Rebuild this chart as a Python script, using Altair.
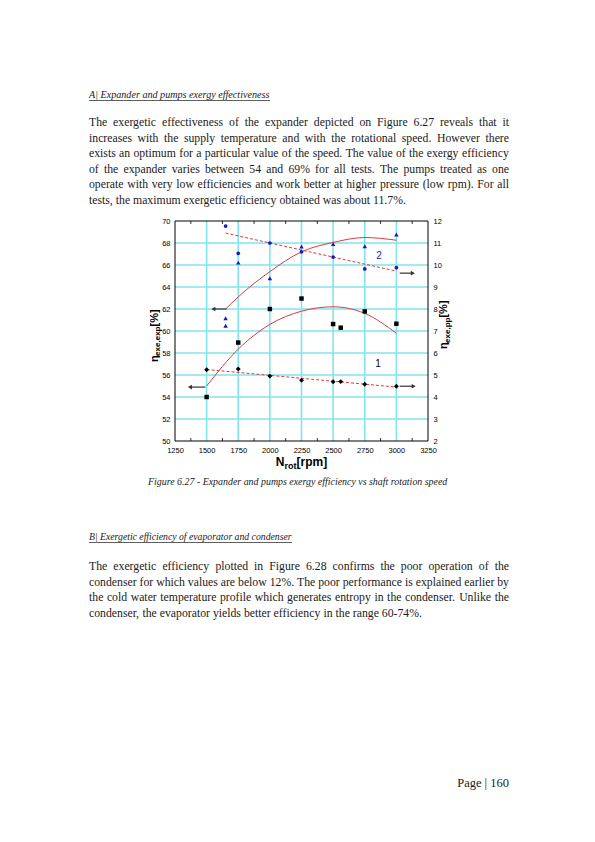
import altair as alt
import pandas as pd

# ---- values ----
rpm_sq = [1500, 1750, 2000, 2250, 2500, 2560, 2750, 3000]
eta_exp_sq = [54.0, 58.95, 62.0, 62.95, 60.63, 60.3, 61.78, 60.66]
rpm_di = [1500, 1750, 2000, 2250, 2500, 2560, 2750, 3000]
eta_pp_di = [5.24, 5.27, 4.95, 4.76, 4.69, 4.70, 4.58, 4.49]
rpm_tri = [1650, 1650, 1750, 2000, 2250, 2500, 2750, 3000]
eta_exp_tri = [61.16, 60.48, 66.22, 64.8, 67.68, 67.9, 67.7, 68.77]
rpm_ci = [1650, 1750, 2000, 2250, 2500, 2750, 3000]
eta_pp_ci = [11.77, 10.53, 11.0, 10.6, 10.36, 9.82, 9.88]

# fitted curves as drawn on the figure
rpm_fit2 = [1650, 1750, 2000, 2250, 2500, 2750, 3000]
eta_fit2 = [62.0, 63.1, 65.4, 67.2, 68.05, 68.5, 68.25]
rpm_fit1 = [1500, 1750, 2000, 2250, 2500, 2750, 3000]
eta_fit1 = [55.0, 58.35, 60.6, 61.8, 62.2, 61.6, 59.8]
rpm_trend2 = [1650, 3000]
eta_trend2 = [11.45, 9.72]
rpm_trend1 = [1500, 3000]
eta_trend1 = [5.25, 4.45]

# arrows telling which axis a curve belongs to
arrow_left_from = [1658, 1490]
arrow_left_to = [1553, 1368]
arrow_left_y = [62.0, 54.9]
arrow_right_from = [3026, 3026]
arrow_right_to = [3130, 3137]
arrow_right_y = [9.63, 4.49]

curve_labels = ["2", "1"]
curve_label_rpm = [2862, 2855]
curve_label_eta = [66.8, 57.0]

x_ticks = [1250, 1500, 1750, 2000, 2250, 2500, 2750, 3000, 3250]
x_grid = [1500, 1750, 2000, 2250, 2500, 2750, 3000]
x_minor = [1375, 1625, 1875, 2125, 2375, 2625, 2875, 3125]
y_left_ticks = [50, 52, 54, 56, 58, 60, 62, 64, 66, 68, 70]
y_grid = [52, 54, 56, 58, 60, 62, 64, 66, 68]
y_right_ticks = [2, 3, 4, 5, 6, 7, 8, 9, 10, 11, 12]

# ---- page text ----
title_a = "A| Expander and pumps exergy effectiveness"
para_a = [
    "The exergetic effectiveness of the expander depicted on Figure 6.27 reveals that it",
    "increases with the supply temperature and with the rotational speed. However there",
    "exists an optimum for a particular value of the speed. The value of the exergy efficiency",
    "of the expander varies between 54 and 69% for all tests. The pumps treated as one",
    "operate with very low efficiencies and work better at higher pressure (low rpm). For all",
    "tests, the maximum exergetic efficiency obtained was about 11.7%.",
]
caption = "Figure 6.27 - Expander and pumps exergy efficiency vs shaft rotation speed"
title_b = "B| Exergetic efficiency of evaporator and condenser"
para_b = [
    "The exergetic efficiency plotted in Figure 6.28 confirms the poor operation of the",
    "condenser for which values are below 12%. The poor performance is explained earlier by",
    "the cold water temperature profile which generates entropy in the condenser. Unlike the",
    "condenser, the evaporator yields better efficiency in the range 60-74%.",
]
page_label = "Page | 160"

# ---- layout (page pixels) ----
X0, Y0, W, H = 175, 221, 253, 220
LEFT, RIGHT = 89, 509
RED = "#d93b3b"
BLUE = "#1818c8"
CYAN = "#80e4ee"
INK = "#1a1a1a"
SANS = "Liberation Sans"
SERIF = "Liberation Serif"


def _table(spec, default=500):
    out = {}
    for chars, w in spec:
        for c in chars:
            out[c] = w
    return out, default


TIMES = _table([(" ", 250), (".,", 250), (":;ijlt", 278), ("frI()-[]", 333), ("s", 389),
                ("aecz", 444), ("m", 778), ("w", 722), ("%", 833), ("|", 200),
                ("AHNUG", 722), ("B", 667), ("ET", 611), ("FP", 556)])
TIMES_I = _table([(" ", 250), (".,", 250), ("fijlt", 278), ("-", 333), ("rsz", 389),
                  ("cekvxy", 444), ("m", 722), ("w", 667), ("|", 275), ("ABEF", 611)])
ARIAL_B = _table([("N", 722), ("r", 389), ("o", 611), ("t", 333), ("[]", 333), ("p", 611),
                  ("m", 889), ("ex", 556), (",", 278), ("%", 889), ("η", 556)])


def text_w(s, size, table):
    widths, default = table
    return sum(widths.get(c, default) for c in s) * size / 1000.0


def justified(lines, y_first, step, size):
    rows = []
    space = text_w(" ", size, TIMES)
    for i, line in enumerate(lines):
        words = line.split(" ")
        ws = [text_w(w, size, TIMES) for w in words]
        gap = space
        if i < len(lines) - 1 and len(words) > 1:
            gap = (RIGHT - LEFT - sum(ws)) / (len(words) - 1)
        x = LEFT
        for w, wd in zip(words, ws):
            rows.append({"px": x - X0, "py": y_first + i * step - Y0, "text": w})
            x += wd + gap
    return rows


full_lines = para_a[:-1] + para_b[:-1]
body_size = min(12.2, min((RIGHT - LEFT) / text_w(l, 1.0, TIMES) for l in full_lines))
words = pd.DataFrame(justified(para_a, 126, 15.6, body_size) + justified(para_b, 570, 15.6, body_size))

size_a = 181 / text_w(title_a, 1.0, TIMES_I)
size_b = 203 / text_w(title_b, 1.0, TIMES_I)
size_cap = 301 / text_w(caption, 1.0, TIMES_I)
italic_rows = pd.DataFrame([
    {"px": LEFT - X0, "py": 98 - Y0, "text": title_a, "fs": size_a},
    {"px": LEFT - X0, "py": 540 - Y0, "text": title_b, "fs": size_b},
    {"px": 298.5 - 301 / 2 - X0, "py": 485 - Y0, "text": caption, "fs": size_cap},
])
underline = pd.DataFrame([
    {"px": LEFT - X0, "px2": LEFT + 181 - X0, "py": 100.5 - Y0},
    {"px": LEFT - X0, "px2": LEFT + 203 - X0, "py": 542.5 - Y0},
])
page_df = pd.DataFrame([{"px": RIGHT - X0, "py": 787 - Y0, "text": page_label}])

# axis titles built from pieces so that the subscripts can be smaller
xt = [("N", 12, 0), ("rot", 9, 2.5), ("[rpm]", 12, 0)]
xt_total = sum(text_w(t, s, ARIAL_B) for t, s, _ in xt)
xt_rows, cx = [], 301.5 - xt_total / 2
for t, s, dy in xt:
    xt_rows.append({"px": cx - X0, "py": 466 + dy - Y0, "text": t, "fs": s})
    cx += text_w(t, s, ARIAL_B)


def vertical_title(pieces, x_base, y_bottom):
    rows, cy = [], y_bottom
    for t, s, dx in pieces:
        rows.append({"px": x_base + dx - X0, "py": cy - Y0, "text": t, "fs": s})
        cy -= text_w(t, s, ARIAL_B)
    return rows


yt_rows = vertical_title([("η", 11, 0), ("exe,exp", 8, 2.5), ("[%]", 11, 0)], 157.5, 362)
yt_rows += vertical_title([("η", 11, 0), ("exe,pp", 8, 2.5), ("[%]", 11, 0)], 447, 349)
x_title_df = pd.DataFrame(xt_rows)
vert_titles = pd.DataFrame(yt_rows)

# ---- encodings ----
lab = dict(grid=False, ticks=False, domain=False, labelFont=SANS, labelFontSize=7.5,
           labelColor="black", labelPadding=5, labelFlush=False, labelOverlap=False, title="")
x_scale = alt.Scale(domain=[1250, 3250], nice=False, zero=False)
x_axis = alt.Axis(values=x_ticks, format="d", **lab)
yl_scale = alt.Scale(domain=[50, 70], nice=False, zero=False)
yl_axis = alt.Axis(values=y_left_ticks, **lab)
yr_scale = alt.Scale(domain=[2, 12], nice=False, zero=False)
yr_axis = alt.Axis(values=y_right_ticks, orient="right", **lab)


def X(f):
    return alt.X(f, type="quantitative", scale=x_scale, axis=x_axis)


def YL(f):
    return alt.Y(f, type="quantitative", scale=yl_scale, axis=yl_axis)


def YR(f):
    return alt.Y(f, type="quantitative", scale=yr_scale, axis=yr_axis)


def df(**cols):
    return pd.DataFrame(cols)


grid_v = alt.Chart(df(rpm=x_grid)).mark_rule(color=CYAN, strokeWidth=1.6).encode(x=X("rpm"))
grid_h = alt.Chart(df(eta=y_grid)).mark_rule(color=CYAN, strokeWidth=1.6).encode(y=YL("eta"))
minor_bottom = alt.Chart(df(rpm=x_minor)).mark_rule(color="black", strokeWidth=0.8).encode(
    x=X("rpm"), y=alt.value(H), y2=alt.value(H - 3))
minor_top = alt.Chart(df(rpm=x_minor)).mark_rule(color="black", strokeWidth=0.8).encode(
    x=X("rpm"), y=alt.value(0), y2=alt.value(3))

fit2 = alt.Chart(df(rpm=rpm_fit2, eta=eta_fit2)).mark_line(
    color=RED, strokeWidth=1, interpolate="monotone").encode(x=X("rpm"), y=YL("eta"))
fit1 = alt.Chart(df(rpm=rpm_fit1, eta=eta_fit1)).mark_line(
    color=RED, strokeWidth=1, interpolate="monotone").encode(x=X("rpm"), y=YL("eta"))
squares = alt.Chart(df(rpm=rpm_sq, eta=eta_exp_sq)).mark_point(
    shape="square", filled=True, color="black", size=20, opacity=1).encode(x=X("rpm"), y=YL("eta"))
triangles = alt.Chart(df(rpm=rpm_tri, eta=eta_exp_tri)).mark_point(
    shape="triangle-up", filled=True, color=BLUE, size=20, opacity=1).encode(x=X("rpm"), y=YL("eta"))
arrows_l = alt.Chart(df(a=arrow_left_from, b=arrow_left_to, eta=arrow_left_y)).mark_rule(
    color="#333333", strokeWidth=1.2).encode(x=X("a"), x2="b", y=YL("eta"))
heads_l = alt.Chart(df(b=arrow_left_to, eta=arrow_left_y)).mark_point(
    shape="triangle-left", filled=True, color="#333333", size=22, opacity=1).encode(x=X("b"), y=YL("eta"))
labels = alt.Chart(df(t=curve_labels, rpm=curve_label_rpm, eta=curve_label_eta,
                      c=[BLUE, "black"])).mark_text(font=SANS, fontSize=10).encode(
    x=X("rpm"), y=YL("eta"), text="t:N", color=alt.Color("c:N", scale=None))

trend2 = alt.Chart(df(rpm=rpm_trend2, eta=eta_trend2)).mark_line(
    color=RED, strokeWidth=1, strokeDash=[3, 2]).encode(x=X("rpm"), y=YR("eta"))
trend1 = alt.Chart(df(rpm=rpm_trend1, eta=eta_trend1)).mark_line(
    color=RED, strokeWidth=1, strokeDash=[3, 2]).encode(x=X("rpm"), y=YR("eta"))
diamonds = alt.Chart(df(rpm=rpm_di, eta=eta_pp_di)).mark_point(
    shape="diamond", filled=True, color="black", size=24, opacity=1).encode(x=X("rpm"), y=YR("eta"))
circles = alt.Chart(df(rpm=rpm_ci, eta=eta_pp_ci)).mark_point(
    shape="circle", filled=True, color=BLUE, size=14, opacity=1).encode(x=X("rpm"), y=YR("eta"))
arrows_r = alt.Chart(df(a=arrow_right_from, b=arrow_right_to, eta=arrow_right_y)).mark_rule(
    color="#333333", strokeWidth=1.2).encode(x=X("a"), x2="b", y=YR("eta"))
heads_r = alt.Chart(df(b=arrow_right_to, eta=arrow_right_y)).mark_point(
    shape="triangle-right", filled=True, color="#333333", size=22, opacity=1).encode(x=X("b"), y=YR("eta"))

left_group = alt.layer(grid_v, grid_h, minor_bottom, minor_top, fit2, fit1, squares, triangles,
                       arrows_l, heads_l, labels)
right_group = alt.layer(trend2, trend1, diamonds, circles, arrows_r, heads_r)

frame = alt.Chart(df(a=[0])).mark_rect(fillOpacity=0, stroke="black", strokeWidth=1).encode(
    x=alt.value(0), x2=alt.value(W), y=alt.value(0), y2=alt.value(H))

PX = alt.X("px:Q", scale=None, axis=None)
PY = alt.Y("py:Q", scale=None, axis=None)

body = alt.Chart(words).mark_text(align="left", baseline="alphabetic", font=SERIF,
                                  fontSize=body_size, color=INK).encode(x=PX, y=PY, text="text:N")
italics = alt.Chart(italic_rows).mark_text(align="left", baseline="alphabetic", font=SERIF,
                                           fontStyle="italic", color=INK).encode(
    x=PX, y=PY, text="text:N", size=alt.Size("fs:Q", scale=None))
rules = alt.Chart(underline).mark_rule(color=INK, strokeWidth=0.7).encode(
    x=PX, x2="px2:Q", y=PY)
page_num = alt.Chart(page_df).mark_text(align="right", baseline="alphabetic", font=SERIF,
                                        fontSize=12.5, color=INK).encode(x=PX, y=PY, text="text:N")
x_title = alt.Chart(x_title_df).mark_text(align="left", baseline="alphabetic", font=SANS,
                                          fontWeight="bold", color="black").encode(
    x=PX, y=PY, text="text:N", size=alt.Size("fs:Q", scale=None))
y_titles = alt.Chart(vert_titles).mark_text(align="left", baseline="alphabetic", font=SANS,
                                            fontWeight="bold", angle=270, color="black").encode(
    x=PX, y=PY, text="text:N", size=alt.Size("fs:Q", scale=None))

chart = alt.layer(
    left_group, right_group, frame, body, italics, rules, page_num, x_title, y_titles
).resolve_scale(y="independent").properties(
    width=W, height=H,
    autosize=alt.AutoSizeParams(type="none"),
    padding={"left": X0 - 8, "top": Y0 - 8, "right": 595 - 16 - (X0 - 8) - W, "bottom": 370},
    background="white",
).configure_view(stroke=None)

chart.save("out.html", embed_options={"renderer": "svg", "actions": False})
